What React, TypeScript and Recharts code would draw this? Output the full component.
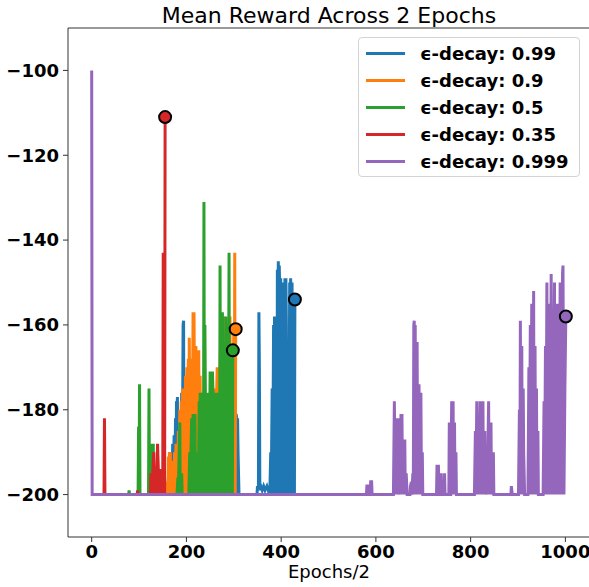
import React from "react"
import {
  LineChart,
  Line,
  XAxis,
  YAxis,
  Legend,
  ReferenceLine,
} from "recharts"

type Pt = [number, number]

const SERIES_NAMES = [
  "ϵ-decay: 0.99",
  "ϵ-decay: 0.9",
  "ϵ-decay: 0.5",
  "ϵ-decay: 0.35",
  "ϵ-decay: 0.999",
]

const X_TICKS = [0, 200, 400, 600, 800, 1000]
const Y_TICKS = [-200, -180, -160, -140, -120, -100]

const decay099: Pt[] = [
  [0, -200], [160, -200], [162, -196], [163, -200], [165, -190], [166, -200], [168, -193], [169, -200],
  [171, -188], [172, -200], [174, -186], [175, -200], [177, -182], [178, -200], [179, -178], [180, -180],
  [181, -177], [182, -200], [184, -186], [185, -200], [187, -184], [188, -200], [190, -176], [191, -200],
  [193, -160], [194, -159], [195, -200], [197, -182], [198, -200], [201, -178], [202, -200], [206, -185],
  [207, -200], [212, -180], [213, -200], [220, -186], [221, -200], [230, -182], [231, -200], [245, -188],
  [246, -200], [260, -185], [261, -200], [275, -190], [276, -200], [288, -185], [289, -200], [298, -190],
  [299, -200], [301, -178], [302, -176], [303, -200], [305, -181], [306, -182], [307, -200], [308, -182],
  [309, -190], [311, -200], [349, -200], [350, -198], [352, -199], [353, -157], [354, -170], [355, -199],
  [357, -198], [360, -199], [363, -198], [366, -199], [370, -198], [373, -199], [375, -200],
  [376, -200], [378, -190], [379, -200], [381, -175], [382, -200], [384, -160], [385, -200], [386, -158],
  [387, -170], [388, -200], [390, -165], [391, -200], [392, -147], [393, -160], [394, -145], [395, -200],
  [396, -146], [397, -152], [398, -200], [399, -149], [400, -165], [401, -200], [402, -150], [403, -155],
  [404, -200], [405, -152], [406, -170], [407, -185], [408, -149], [409, -200], [410, -149], [411, -160],
  [412, -200], [413, -178], [414, -200], [415, -165], [416, -200], [418, -150], [419, -200], [420, -149],
  [421, -160], [422, -200], [423, -150], [424, -200], [425, -165], [426, -200], [427, -170], [428, -200],
  [429, -154],
]

const decay09: Pt[] = [
  [0, -200], [158, -200], [160, -197], [161, -200], [162, -191], [163, -200], [164, -190], [165, -195],
  [166, -190], [167, -200], [169, -193], [170, -200], [172, -192], [173, -200], [175, -190], [176, -200],
  [178, -188], [179, -195], [180, -188], [181, -200], [183, -185], [184, -200], [186, -180], [187, -200],
  [189, -178], [190, -200], [192, -175], [193, -190], [195, -175], [196, -200], [198, -172], [199, -200],
  [201, -170], [202, -185], [204, -168], [205, -200], [206, -163], [207, -175], [208, -200], [210, -168],
  [211, -200], [212, -170], [213, -180], [214, -157], [215, -200], [216, -157], [217, -175], [218, -200],
  [220, -165], [221, -200], [222, -166], [223, -170], [224, -200], [226, -166], [227, -200], [229, -172],
  [230, -200], [232, -176], [233, -200], [240, -185], [241, -200], [250, -178], [251, -200], [258, -175],
  [259, -200], [265, -170], [266, -200], [272, -165], [273, -200], [279, -158], [280, -200], [284, -165],
  [285, -200], [288, -170], [289, -200], [292, -158], [293, -200], [296, -165], [297, -200], [300, -160],
  [301, -200], [302, -143], [303, -200], [304, -161],
]

const decay05: Pt[] = [
  [0, -200], [78, -200], [79, -199], [80, -200], [98, -200], [99, -184], [100, -200], [101, -174],
  [102, -200], [120, -200], [121, -175], [122, -200], [124, -200], [125, -195], [126, -200], [128, -188],
  [129, -200], [130, -188], [131, -200], [180, -200], [182, -196], [183, -200], [185, -188], [186, -183],
  [187, -200], [190, -195], [191, -200], [205, -200], [207, -190], [208, -200], [211, -182], [212, -200],
  [214, -181], [215, -200], [217, -183], [218, -181], [219, -200], [221, -190], [222, -200], [224, -195],
  [225, -200], [227, -178], [228, -200], [229, -176], [230, -190], [231, -176], [232, -200], [233, -176],
  [234, -185], [235, -176], [236, -200], [237, -131], [238, -200], [239, -160], [240, -176], [241, -200],
  [242, -176], [243, -190], [244, -176], [245, -200], [246, -178], [247, -176], [248, -200], [250, -171],
  [251, -200], [252, -176], [253, -185], [254, -200], [255, -171], [256, -176], [257, -200], [258, -176],
  [259, -180], [260, -176], [261, -200], [262, -176], [263, -188], [264, -176], [265, -200], [266, -176],
  [267, -200], [268, -176], [269, -185], [270, -200], [271, -146], [272, -200], [273, -176], [274, -185],
  [275, -200], [276, -157], [277, -176], [278, -200], [279, -176], [280, -190], [281, -176], [282, -200],
  [283, -158], [284, -176], [285, -200], [286, -176], [287, -188], [288, -200], [289, -176], [290, -143],
  [291, -200], [292, -165], [293, -176], [294, -200], [295, -176], [296, -170], [297, -200], [298, -166],
]

const decay035: Pt[] = [
  [0, -200], [26, -200], [27, -182], [28, -200], [96, -200], [97, -199], [98, -200], [124, -200],
  [125, -195], [127, -200], [129, -195], [131, -190], [133, -200], [135, -195], [137, -200], [139, -188],
  [141, -195], [143, -200], [145, -194], [147, -200], [150, -200], [151, -143], [152, -200], [154, -200],
  [155, -111],
]

const decay0999: Pt[] = [
  [0, -100], [1, -200], [580, -200], [581, -198], [584, -198], [585, -200], [588, -200], [589, -197],
  [591, -197], [592, -200], [637, -200], [639, -178], [641, -200], [642, -195], [643, -200], [645, -182],
  [646, -200], [647, -182], [648, -194], [650, -200], [652, -190], [653, -181], [654, -200], [655, -181],
  [656, -195], [657, -200], [659, -187], [660, -200], [661, -187], [662, -200], [664, -195], [666, -200],
  [672, -200], [673, -198], [675, -197], [676, -200], [678, -195], [679, -200], [680, -160], [681, -159],
  [682, -200], [683, -160], [684, -200], [685, -164], [686, -200], [687, -164], [688, -190], [689, -174],
  [690, -200], [691, -174], [692, -185], [693, -176], [694, -200], [695, -176], [696, -195], [697, -200],
  [698, -190], [699, -200], [728, -200], [729, -193], [730, -200], [732, -193], [733, -200], [737, -200],
  [738, -195], [739, -200], [744, -200], [745, -195], [746, -200], [754, -200], [755, -183], [756, -200],
  [758, -200], [760, -178], [761, -200], [763, -178], [764, -200], [766, -183], [767, -200], [769, -190],
  [770, -200], [808, -200], [810, -185], [811, -200], [813, -178], [814, -200], [816, -190], [817, -200],
  [820, -178], [821, -200], [823, -182], [824, -200], [826, -178], [827, -200], [830, -185], [831, -200],
  [834, -190], [835, -200], [838, -178], [839, -200], [843, -183], [844, -200], [848, -190], [849, -200],
  [885, -200], [886, -198], [888, -200], [901, -200], [903, -180], [904, -200], [905, -159], [906, -200],
  [908, -165], [909, -200], [911, -175], [912, -190], [914, -200], [921, -200], [923, -170], [924, -200],
  [926, -160], [927, -200], [929, -155], [930, -180], [931, -200], [933, -152], [934, -200], [936, -165],
  [937, -200], [939, -175], [940, -200], [942, -185], [943, -200], [953, -200], [955, -178], [956, -200],
  [958, -165], [959, -200], [961, -150], [962, -200], [964, -160], [965, -200], [967, -155], [968, -200],
  [970, -148], [971, -170], [972, -200], [974, -160], [975, -200], [977, -150], [978, -200], [980, -165],
  [981, -200], [983, -155], [984, -200], [986, -170], [987, -200], [989, -150], [990, -200], [992, -160],
  [993, -200], [994, -148], [995, -146], [996, -178], [997, -200], [999, -175], [1001, -158],
]

const SERIES_POINTS = [decay099, decay09, decay05, decay035, decay0999]
const COLORS = ["#1f77b4", "#ff7f0e", "#2ca02c", "#d62728", "#9467bd"]

const FONT = "DejaVu Sans, sans-serif"

const toRows = (pts: Pt[]) => pts.map(([x, y]) => ({ x, y }))

const fmt = (v: number) => (v < 0 ? `\u2212${-v}` : `${v}`)

function EndDot(props: any, last: number, color: string) {
  const { cx, cy, index } = props
  if (index !== last) return <g key={`d${index}`} />
  return (
    <circle
      key={`d${index}`}
      cx={cx}
      cy={cy}
      r={6}
      fill={color}
      stroke="#000"
      strokeWidth={2}
    />
  )
}

// legend keeps the plotting order (Recharts sorts its own payload)
function LegendBox() {
  return (
    <div
      style={{
        border: "1px solid #d3d3d3",
        borderRadius: 4,
        background: "rgba(255,255,255,0.8)",
        padding: "2px 10px 1px 7px",
        fontFamily: FONT,
        fontWeight: "bold",
        fontSize: 18,
        color: "#000",
      }}
    >
      {SERIES_NAMES.map((name, i) => (
        <div
          key={name}
          style={{ display: "flex", alignItems: "center", height: 27 }}
        >
          <span
            style={{
              display: "inline-block",
              width: 39,
              height: 3,
              background: COLORS[i],
              marginRight: 15,
            }}
          />
          <span style={{ whiteSpace: "nowrap" }}>{name}</span>
        </div>
      ))}
    </div>
  )
}

export default function App() {
  return (
    <div
      style={{
        position: "fixed",
        left: 0,
        top: 0,
        width: 589,
        height: 587,
        overflow: "hidden",
        background: "#fff",
      }}
    >
      <LineChart
        width={600}
        height={587}
        margin={{ top: 28, right: 10, bottom: 10, left: 8 }}
      >
        <XAxis
          dataKey="x"
          type="number"
          domain={[-50, 1052]}
          ticks={X_TICKS}
          allowDataOverflow
          height={40}
          tickSize={5}
          tickMargin={3}
          stroke="#333"
          tick={{ fill: "#000", fontSize: 18, fontWeight: "bold", fontFamily: FONT }}
          tickFormatter={fmt}
        />
        <YAxis
          type="number"
          domain={[-210, -90]}
          ticks={Y_TICKS}
          allowDataOverflow
          width={60}
          tickSize={5}
          tickMargin={4}
          stroke="#333"
          tick={{ fill: "#000", fontSize: 18, fontWeight: "bold", fontFamily: FONT }}
          tickFormatter={fmt}
        />
        <ReferenceLine y={-90} stroke="#333" strokeWidth={1} />
        <ReferenceLine x={1052} stroke="#333" strokeWidth={1} />
        {SERIES_POINTS.map((pts, i) => (
          <Line
            key={SERIES_NAMES[i]}
            data={toRows(pts)}
            dataKey="y"
            name={SERIES_NAMES[i]}
            type="linear"
            stroke={COLORS[i]}
            strokeWidth={3}
            strokeLinejoin="miter"
            dot={(p: any) => EndDot(p, pts.length - 1, COLORS[i])}
            activeDot={false}
            isAnimationActive={false}
          />
        ))}
        <Legend
          layout="vertical"
          align="center"
          verticalAlign="middle"
          content={<LegendBox />}
          wrapperStyle={{ position: "absolute", top: 37, left: 358, width: "auto" }}
        />
        <text
          x={329}
          y={23}
          textAnchor="middle"
          fontFamily={FONT}
          fontSize={22}
          fill="#000"
        >
          Mean Reward Across 2 Epochs
        </text>
        <text
          x={329}
          y={578}
          textAnchor="middle"
          fontFamily={FONT}
          fontSize={18}
          fill="#000"
        >
          Epochs/2
        </text>
      </LineChart>
    </div>
  )
}
